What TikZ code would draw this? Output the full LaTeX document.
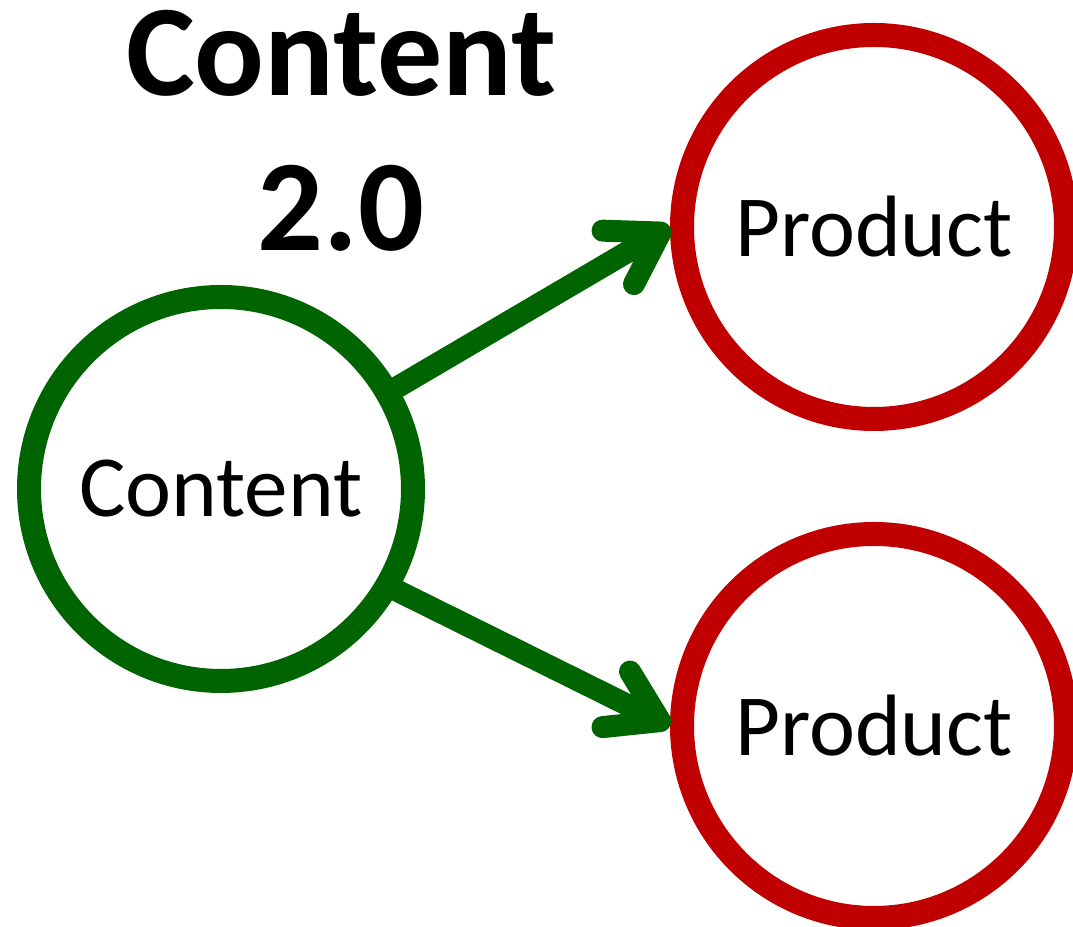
\documentclass[tikz,border=0pt]{standalone}
\usepackage{fontspec}
\setmainfont{Carlito}
\definecolor{LeafGreen}{RGB}{0, 100, 0}
\definecolor{BrickRed}{RGB}{192, 0, 0}
\usetikzlibrary{arrows.meta, positioning}

\begin{document}
\begin{tikzpicture}[
            node distance=0.91cm,
            bubble/.style={circle, line width=0.24cm, fill=white, inner sep=0pt,
                           minimum size=3.84cm, font=\fontsize{24.8}{30}\selectfont},
            arrow/.style={-{Straight Barb[length=4.9mm, width=6.2mm, round]}, line width=0.22cm,
                          line cap=round, LeafGreen}
        ]
            \useasboundingbox (0,0) rectangle (10.73,9.27);

            \node[font=\bfseries\fontsize{37}{44.1}\selectfont, align=center] (title) at (3.41,7.96) {Content\\2.0};

            \node[bubble, draw=LeafGreen] (content) at (2.21,4.38) {Content};
            \node[bubble, draw=BrickRed] (ptop) at (8.74,7.00) {Product};
            \node[bubble, draw=BrickRed, below=of ptop] (pbot) {Product};

            \draw[arrow] (content.30) -- (ptop.west);
            \draw[arrow] (content.-30) -- (pbot.west);
        \end{tikzpicture}
\end{document}
